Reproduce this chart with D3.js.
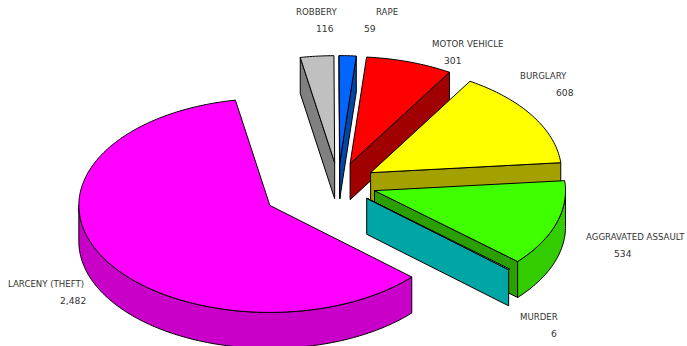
<!DOCTYPE html>
<html>
<head>
<meta charset="utf-8">
<script src="https://cdn.jsdelivr.net/npm/d3@7"></script>
<style>
  html, body { margin: 0; padding: 0; background: #fff; }
  svg { display: block; }
  text { font-family: "DejaVu Sans", sans-serif; fill: #333; }
</style>
</head>
<body>
<svg width="687" height="346"></svg>
<script>
const categories = ["LARCENY (THEFT)", "ROBBERY", "RAPE", "MOTOR VEHICLE", "BURGLARY", "AGGRAVATED ASSAULT", "MURDER"];
const values = [2482, 116, 59, 301, 608, 534, 6];
const explode = [0.41, 0.2, 0.2, 0.2, 0.2, 0.2, 0.2];

const topColors = ["#ff00ff", "#c0c0c0", "#0066ff", "#ff0000", "#ffff00", "#40ff00", "#00ffff"];
const rimColors = ["#c800c8", "#969696", "#0050c8", "#c80000", "#c8c800", "#33cc00", "#00c8c8"];
const wallColors = ["#a000a0", "#808080", "#0047a8", "#a00000", "#a3a000", "#2b9e00", "#00a6a6"];

// label anchors: [name x, name y, value x, value y]
const labelPos = [
  [8, 287, 60, 304],
  [296, 15, 316, 32],
  [376, 15, 364, 32],
  [432, 47, 444, 64],
  [520, 79, 556, 96],
  [586, 240, 614, 257],
  [520, 320, 551, 337]
];

const cx = 338.2, cy = 184, rx = 191, ry = 107, depth = 36;
const rad = Math.PI / 180;
const formatValue = d3.format(",");

const svg = d3.select("svg");

const pie = d3.pie()
  .sort(null)
  .startAngle(132 * rad)
  .endAngle(492 * rad);

const arcs = pie(values);

// angle is clockwise from 12 o'clock, same as d3.arc
const onRim = (d, i, a, drop = 0) => {
  const o = centre(d, i);
  return [o[0] + rx * Math.sin(a), o[1] - ry * Math.cos(a) + drop];
};

function centre(d, i) {
  const mid = (d.startAngle + d.endAngle) / 2;
  return [cx + explode[i] * rx * Math.sin(mid), cy - explode[i] * ry * Math.cos(mid)];
}

const line = d3.line();

function rimPoints(d, i, a0, a1, drop) {
  const n = Math.max(2, Math.ceil((a1 - a0) / rad));
  return d3.range(n + 1).map(k => onRim(d, i, a0 + (a1 - a0) * k / n, drop));
}

function topPath(d, i) {
  return line([centre(d, i), ...rimPoints(d, i, d.startAngle, d.endAngle, 0)]) + "Z";
}

// walls along the cut edges, dropped when they face away from us
function wallPath(d, i, a, facing) {
  if (Math.sin(a) * facing <= 0) return null;
  const o = centre(d, i);
  const p = onRim(d, i, a);
  return line([o, p, [p[0], p[1] + depth], [o[0], o[1] + depth]]) + "Z";
}

// only the part of the rim between 90 and 270 degrees faces us
function rimPath(d, i) {
  let a0 = d.startAngle, a1 = d.endAngle;
  if (a1 - a0 < rad) return null; // too thin to show, murder is only a sliver
  const shift = a0 >= 270 * rad ? 360 * rad : 0;
  a0 = Math.max(a0, 90 * rad + shift);
  a1 = Math.min(a1, 270 * rad + shift);
  if (a1 <= a0) return null;
  const upper = rimPoints(d, i, a0, a1, 0);
  const lower = rimPoints(d, i, a0, a1, depth).reverse();
  return line([...upper, ...lower]) + "Z";
}

const slices = svg.append("g")
  .selectAll("g")
  .data(arcs)
  .enter()
  .append("g")
  .attr("stroke", "#000")
  .attr("stroke-width", 1)
  .attr("stroke-linejoin", "round");

slices.append("path")
  .attr("d", (d, i) => wallPath(d, i, d.startAngle, -1))
  .attr("fill", (d, i) => wallColors[i]);

slices.append("path")
  .attr("d", (d, i) => wallPath(d, i, d.endAngle, 1))
  .attr("fill", (d, i) => wallColors[i]);

slices.append("path")
  .attr("d", (d, i) => rimPath(d, i))
  .attr("fill", (d, i) => rimColors[i]);

slices.append("path")
  .attr("d", (d, i) => topPath(d, i))
  .attr("fill", (d, i) => topColors[i]);

const labels = svg.append("g").selectAll("g")
  .data(categories)
  .enter()
  .append("g");

labels.append("text")
  .attr("x", (d, i) => labelPos[i][0])
  .attr("y", (d, i) => labelPos[i][1])
  .attr("font-size", 8.6)
  .text(d => d);

labels.append("text")
  .attr("x", (d, i) => labelPos[i][2])
  .attr("y", (d, i) => labelPos[i][3])
  .attr("font-size", 9.2)
  .text((d, i) => formatValue(values[i]));
</script>
</body>
</html>
